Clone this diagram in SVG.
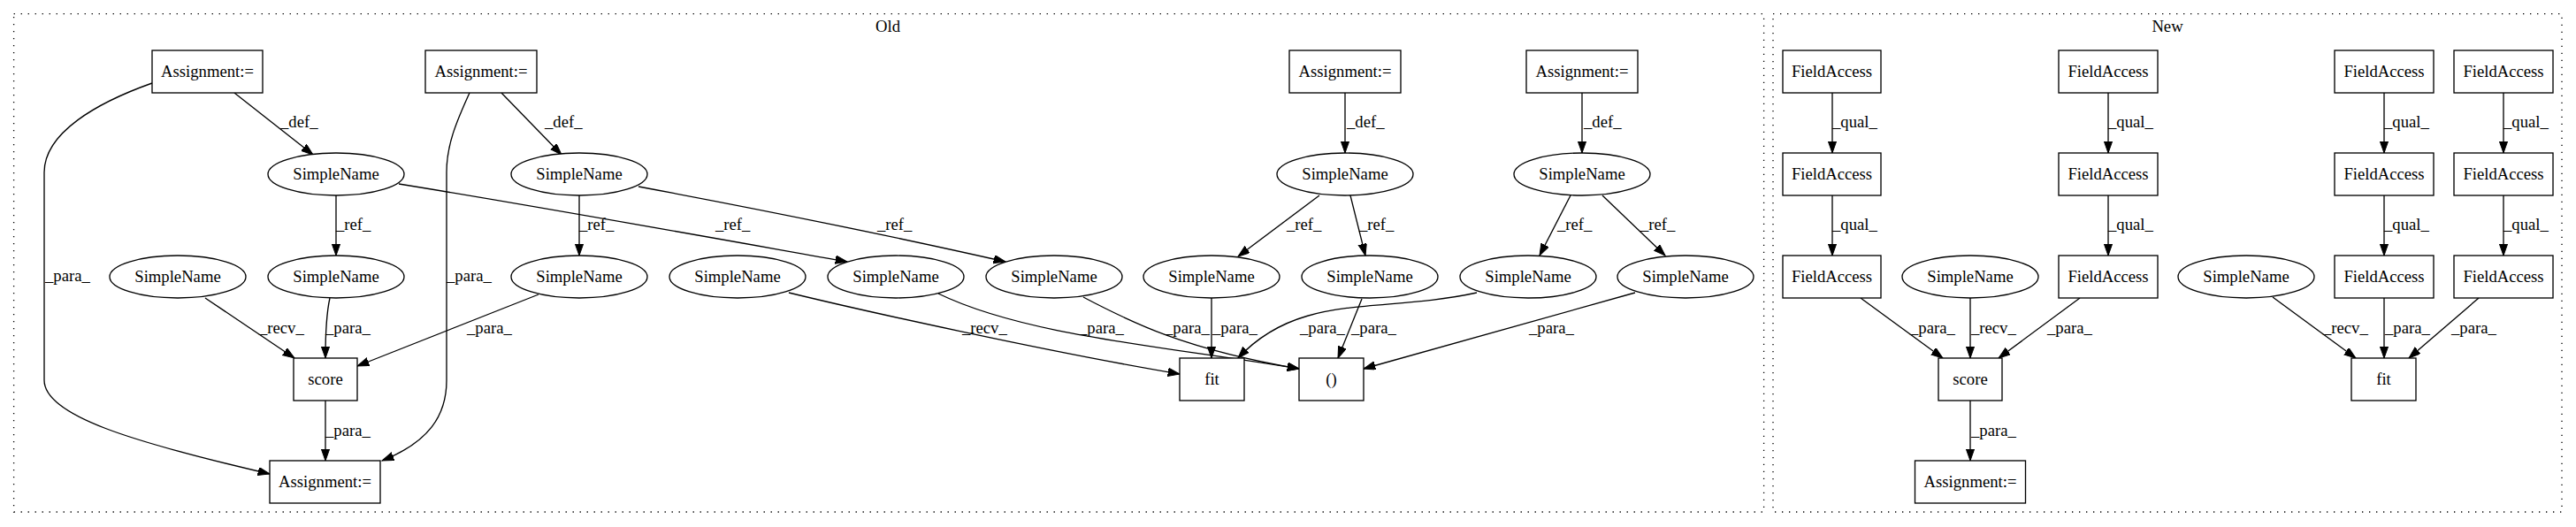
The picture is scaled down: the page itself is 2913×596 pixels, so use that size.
<svg xmlns="http://www.w3.org/2000/svg" width="2913" height="596" viewBox="0 0 2913 596">
<style>
text{font-family:"Liberation Serif","Times New Roman",serif;font-size:18.67px;fill:#000}
.n{text-anchor:middle}
.box{fill:#fff;stroke:#000;stroke-width:1.33}
.ell{fill:#fff;stroke:#000;stroke-width:1.33}
.cl{fill:none;stroke:#000;stroke-width:1.33;stroke-dasharray:1.33,6.67}
.e{fill:none;stroke:#000;stroke-width:1.33;marker-end:url(#ah)}
</style>
<defs>
<marker id="ah" markerUnits="userSpaceOnUse" markerWidth="15" markerHeight="11" refX="13.3" refY="4.7" orient="auto" viewBox="0 0 15 11">
<path d="M0,0 L13.3,4.7 L0,9.4 z" fill="#000" stroke="#000" stroke-width="1"/>
</marker>
</defs>
<rect width="2913" height="596" fill="#fff"/>
<g id="clusters">
<rect class="cl" x="15.6" y="15.7" width="1979" height="563.3"/>
<text class="n" x="1004" y="36">Old</text>
<rect class="cl" x="2005" y="15.7" width="892" height="563.3"/>
<text class="n" x="2451" y="36">New</text>
</g>
<g id="connectors">
<path class="e" d="M265,105 L354,175"/>
<text x="317" y="144">_def_</text>
<path class="e" d="M567,105 L635,175"/>
<text x="616" y="144">_def_</text>
<path class="e" d="M1521,105 L1521,173"/>
<text x="1523" y="144">_def_</text>
<path class="e" d="M1789,105 L1789,173"/>
<text x="1791" y="144">_def_</text>
<path class="e" d="M380,221 L380,289"/>
<text x="380" y="260">_ref_</text>
<path class="e" d="M451,208 C600,232 800,268 958,296"/>
<text x="809" y="260">_ref_</text>
<path class="e" d="M655,221 L655,289"/>
<text x="655" y="260">_ref_</text>
<path class="e" d="M722,211 C850,235 1000,265 1137,296"/>
<text x="992" y="260">_ref_</text>
<path class="e" d="M1492,221 L1400,290"/>
<text x="1455" y="260">_ref_</text>
<path class="e" d="M1527,221 L1544,289"/>
<text x="1537" y="260">_ref_</text>
<path class="e" d="M1776,221 L1741,289"/>
<text x="1761" y="260">_ref_</text>
<path class="e" d="M1812,221 L1883,289"/>
<text x="1855" y="260">_ref_</text>
<path class="e" d="M172,94 C110,116 50,150 50,195 L50,430 C50,470 150,500 305,536"/>
<text x="51" y="318">_para_</text>
<path class="e" d="M531,105 C515,140 505,165 505,195 L505,430 C505,470 485,500 432,521"/>
<text x="505" y="318">_para_</text>
<path class="e" d="M232,337 L333,405"/>
<text x="293" y="377">_recv_</text>
<path class="e" d="M373,337 C369,355 368,380 368,405"/>
<text x="368" y="377">_para_</text>
<path class="e" d="M609,333 L404,414"/>
<text x="528" y="377">_para_</text>
<path class="e" d="M368,453 L368,521"/>
<text x="368" y="493">_para_</text>
<path class="e" d="M892,331 C970,350 1180,397 1334,423"/>
<text x="1088" y="377">_recv_</text>
<path class="e" d="M1061,332 C1160,380 1320,392 1469,417"/>
<text x="1220" y="377">_para_</text>
<path class="e" d="M1225,336 C1280,365 1340,395 1469,417"/>
<text x="1317" y="377">_para_</text>
<path class="e" d="M1370,337 L1370,405"/>
<text x="1371" y="377">_para_</text>
<path class="e" d="M1670,331 C1560,355 1470,330 1400,405"/>
<text x="1470" y="377">_para_</text>
<path class="e" d="M1540,338 L1513,405"/>
<text x="1528" y="377">_para_</text>
<path class="e" d="M1849,331 L1542,417"/>
<text x="1729" y="377">_para_</text>
<path class="e" d="M2072,105 L2072,173"/>
<text x="2072" y="144">_qual_</text>
<path class="e" d="M2072,221 L2072,289"/>
<text x="2072" y="260">_qual_</text>
<path class="e" d="M2384,105 L2384,173"/>
<text x="2384" y="144">_qual_</text>
<path class="e" d="M2384,221 L2384,289"/>
<text x="2384" y="260">_qual_</text>
<path class="e" d="M2696,105 L2696,173"/>
<text x="2696" y="144">_qual_</text>
<path class="e" d="M2696,221 L2696,289"/>
<text x="2696" y="260">_qual_</text>
<path class="e" d="M2831,105 L2831,173"/>
<text x="2831" y="144">_qual_</text>
<path class="e" d="M2831,221 L2831,289"/>
<text x="2831" y="260">_qual_</text>
<path class="e" d="M2104,337 L2197,405"/>
<text x="2160" y="377">_para_</text>
<path class="e" d="M2228,337 L2228,405"/>
<text x="2229" y="377">_recv_</text>
<path class="e" d="M2352,337 L2260,405"/>
<text x="2315" y="377">_para_</text>
<path class="e" d="M2228,453 L2228,521"/>
<text x="2229" y="493">_para_</text>
<path class="e" d="M2570,336 L2664,405"/>
<text x="2627" y="377">_recv_</text>
<path class="e" d="M2696,337 L2696,405"/>
<text x="2697" y="377">_para_</text>
<path class="e" d="M2803,337 L2724,405"/>
<text x="2772" y="377">_para_</text>
</g>
<g id="old_assign1"><rect class="box" x="172" y="57" width="125" height="48"/><text class="n" x="234.5" y="87">Assignment:=</text></g>
<g id="old_assign2"><rect class="box" x="481" y="57" width="126" height="48"/><text class="n" x="544" y="87">Assignment:=</text></g>
<g id="old_assign3"><rect class="box" x="1458" y="57" width="126" height="48"/><text class="n" x="1521" y="87">Assignment:=</text></g>
<g id="old_assign4"><rect class="box" x="1726" y="57" width="126" height="48"/><text class="n" x="1789" y="87">Assignment:=</text></g>
<g id="old_snA"><ellipse class="ell" cx="380" cy="197" rx="77" ry="24"/><text class="n" x="380" y="203">SimpleName</text></g>
<g id="old_snB"><ellipse class="ell" cx="655" cy="197" rx="77" ry="24"/><text class="n" x="655" y="203">SimpleName</text></g>
<g id="old_snJ"><ellipse class="ell" cx="1521" cy="197" rx="77" ry="24"/><text class="n" x="1521" y="203">SimpleName</text></g>
<g id="old_snK"><ellipse class="ell" cx="1789" cy="197" rx="77" ry="24"/><text class="n" x="1789" y="203">SimpleName</text></g>
<g id="old_snC"><ellipse class="ell" cx="201" cy="313" rx="77" ry="24"/><text class="n" x="201" y="319">SimpleName</text></g>
<g id="old_snD"><ellipse class="ell" cx="380" cy="313" rx="77" ry="24"/><text class="n" x="380" y="319">SimpleName</text></g>
<g id="old_snE"><ellipse class="ell" cx="655" cy="313" rx="77" ry="24"/><text class="n" x="655" y="319">SimpleName</text></g>
<g id="old_snF"><ellipse class="ell" cx="834" cy="313" rx="77" ry="24"/><text class="n" x="834" y="319">SimpleName</text></g>
<g id="old_snG"><ellipse class="ell" cx="1013" cy="313" rx="77" ry="24"/><text class="n" x="1013" y="319">SimpleName</text></g>
<g id="old_snH"><ellipse class="ell" cx="1192" cy="313" rx="77" ry="24"/><text class="n" x="1192" y="319">SimpleName</text></g>
<g id="old_snI"><ellipse class="ell" cx="1370" cy="313" rx="77" ry="24"/><text class="n" x="1370" y="319">SimpleName</text></g>
<g id="old_snL"><ellipse class="ell" cx="1549" cy="313" rx="77" ry="24"/><text class="n" x="1549" y="319">SimpleName</text></g>
<g id="old_snM"><ellipse class="ell" cx="1728" cy="313" rx="77" ry="24"/><text class="n" x="1728" y="319">SimpleName</text></g>
<g id="old_snN"><ellipse class="ell" cx="1906" cy="313" rx="77" ry="24"/><text class="n" x="1906" y="319">SimpleName</text></g>
<g id="old_score"><rect class="box" x="332" y="405" width="72" height="48"/><text class="n" x="368" y="435">score</text></g>
<g id="old_fit"><rect class="box" x="1334" y="405" width="73" height="48"/><text class="n" x="1370.5" y="435">fit</text></g>
<g id="old_paren"><rect class="box" x="1469" y="405" width="73" height="48"/><text class="n" x="1505.5" y="435">()</text></g>
<g id="old_assign5"><rect class="box" x="305" y="521" width="125" height="48"/><text class="n" x="367.5" y="551">Assignment:=</text></g>
<g id="new_fa1a"><rect class="box" x="2016" y="57" width="111" height="48"/><text class="n" x="2071.5" y="87">FieldAccess</text></g>
<g id="new_fa1b"><rect class="box" x="2016" y="173" width="111" height="48"/><text class="n" x="2071.5" y="203">FieldAccess</text></g>
<g id="new_fa1c"><rect class="box" x="2016" y="289" width="111" height="48"/><text class="n" x="2071.5" y="319">FieldAccess</text></g>
<g id="new_fa2a"><rect class="box" x="2328" y="57" width="112" height="48"/><text class="n" x="2384" y="87">FieldAccess</text></g>
<g id="new_fa2b"><rect class="box" x="2328" y="173" width="112" height="48"/><text class="n" x="2384" y="203">FieldAccess</text></g>
<g id="new_fa2c"><rect class="box" x="2328" y="289" width="112" height="48"/><text class="n" x="2384" y="319">FieldAccess</text></g>
<g id="new_fa3a"><rect class="box" x="2640" y="57" width="112" height="48"/><text class="n" x="2696" y="87">FieldAccess</text></g>
<g id="new_fa3b"><rect class="box" x="2640" y="173" width="112" height="48"/><text class="n" x="2696" y="203">FieldAccess</text></g>
<g id="new_fa3c"><rect class="box" x="2640" y="289" width="112" height="48"/><text class="n" x="2696" y="319">FieldAccess</text></g>
<g id="new_fa4a"><rect class="box" x="2775" y="57" width="112" height="48"/><text class="n" x="2831" y="87">FieldAccess</text></g>
<g id="new_fa4b"><rect class="box" x="2775" y="173" width="112" height="48"/><text class="n" x="2831" y="203">FieldAccess</text></g>
<g id="new_fa4c"><rect class="box" x="2775" y="289" width="112" height="48"/><text class="n" x="2831" y="319">FieldAccess</text></g>
<g id="new_snO"><ellipse class="ell" cx="2228" cy="313" rx="77" ry="24"/><text class="n" x="2228" y="319">SimpleName</text></g>
<g id="new_snP"><ellipse class="ell" cx="2540" cy="313" rx="77" ry="24"/><text class="n" x="2540" y="319">SimpleName</text></g>
<g id="new_score"><rect class="box" x="2192" y="405" width="72" height="48"/><text class="n" x="2228" y="435">score</text></g>
<g id="new_fit"><rect class="box" x="2659" y="405" width="73" height="48"/><text class="n" x="2695.5" y="435">fit</text></g>
<g id="new_assign"><rect class="box" x="2165.5" y="521" width="125" height="48"/><text class="n" x="2228" y="551">Assignment:=</text></g>
</svg>
